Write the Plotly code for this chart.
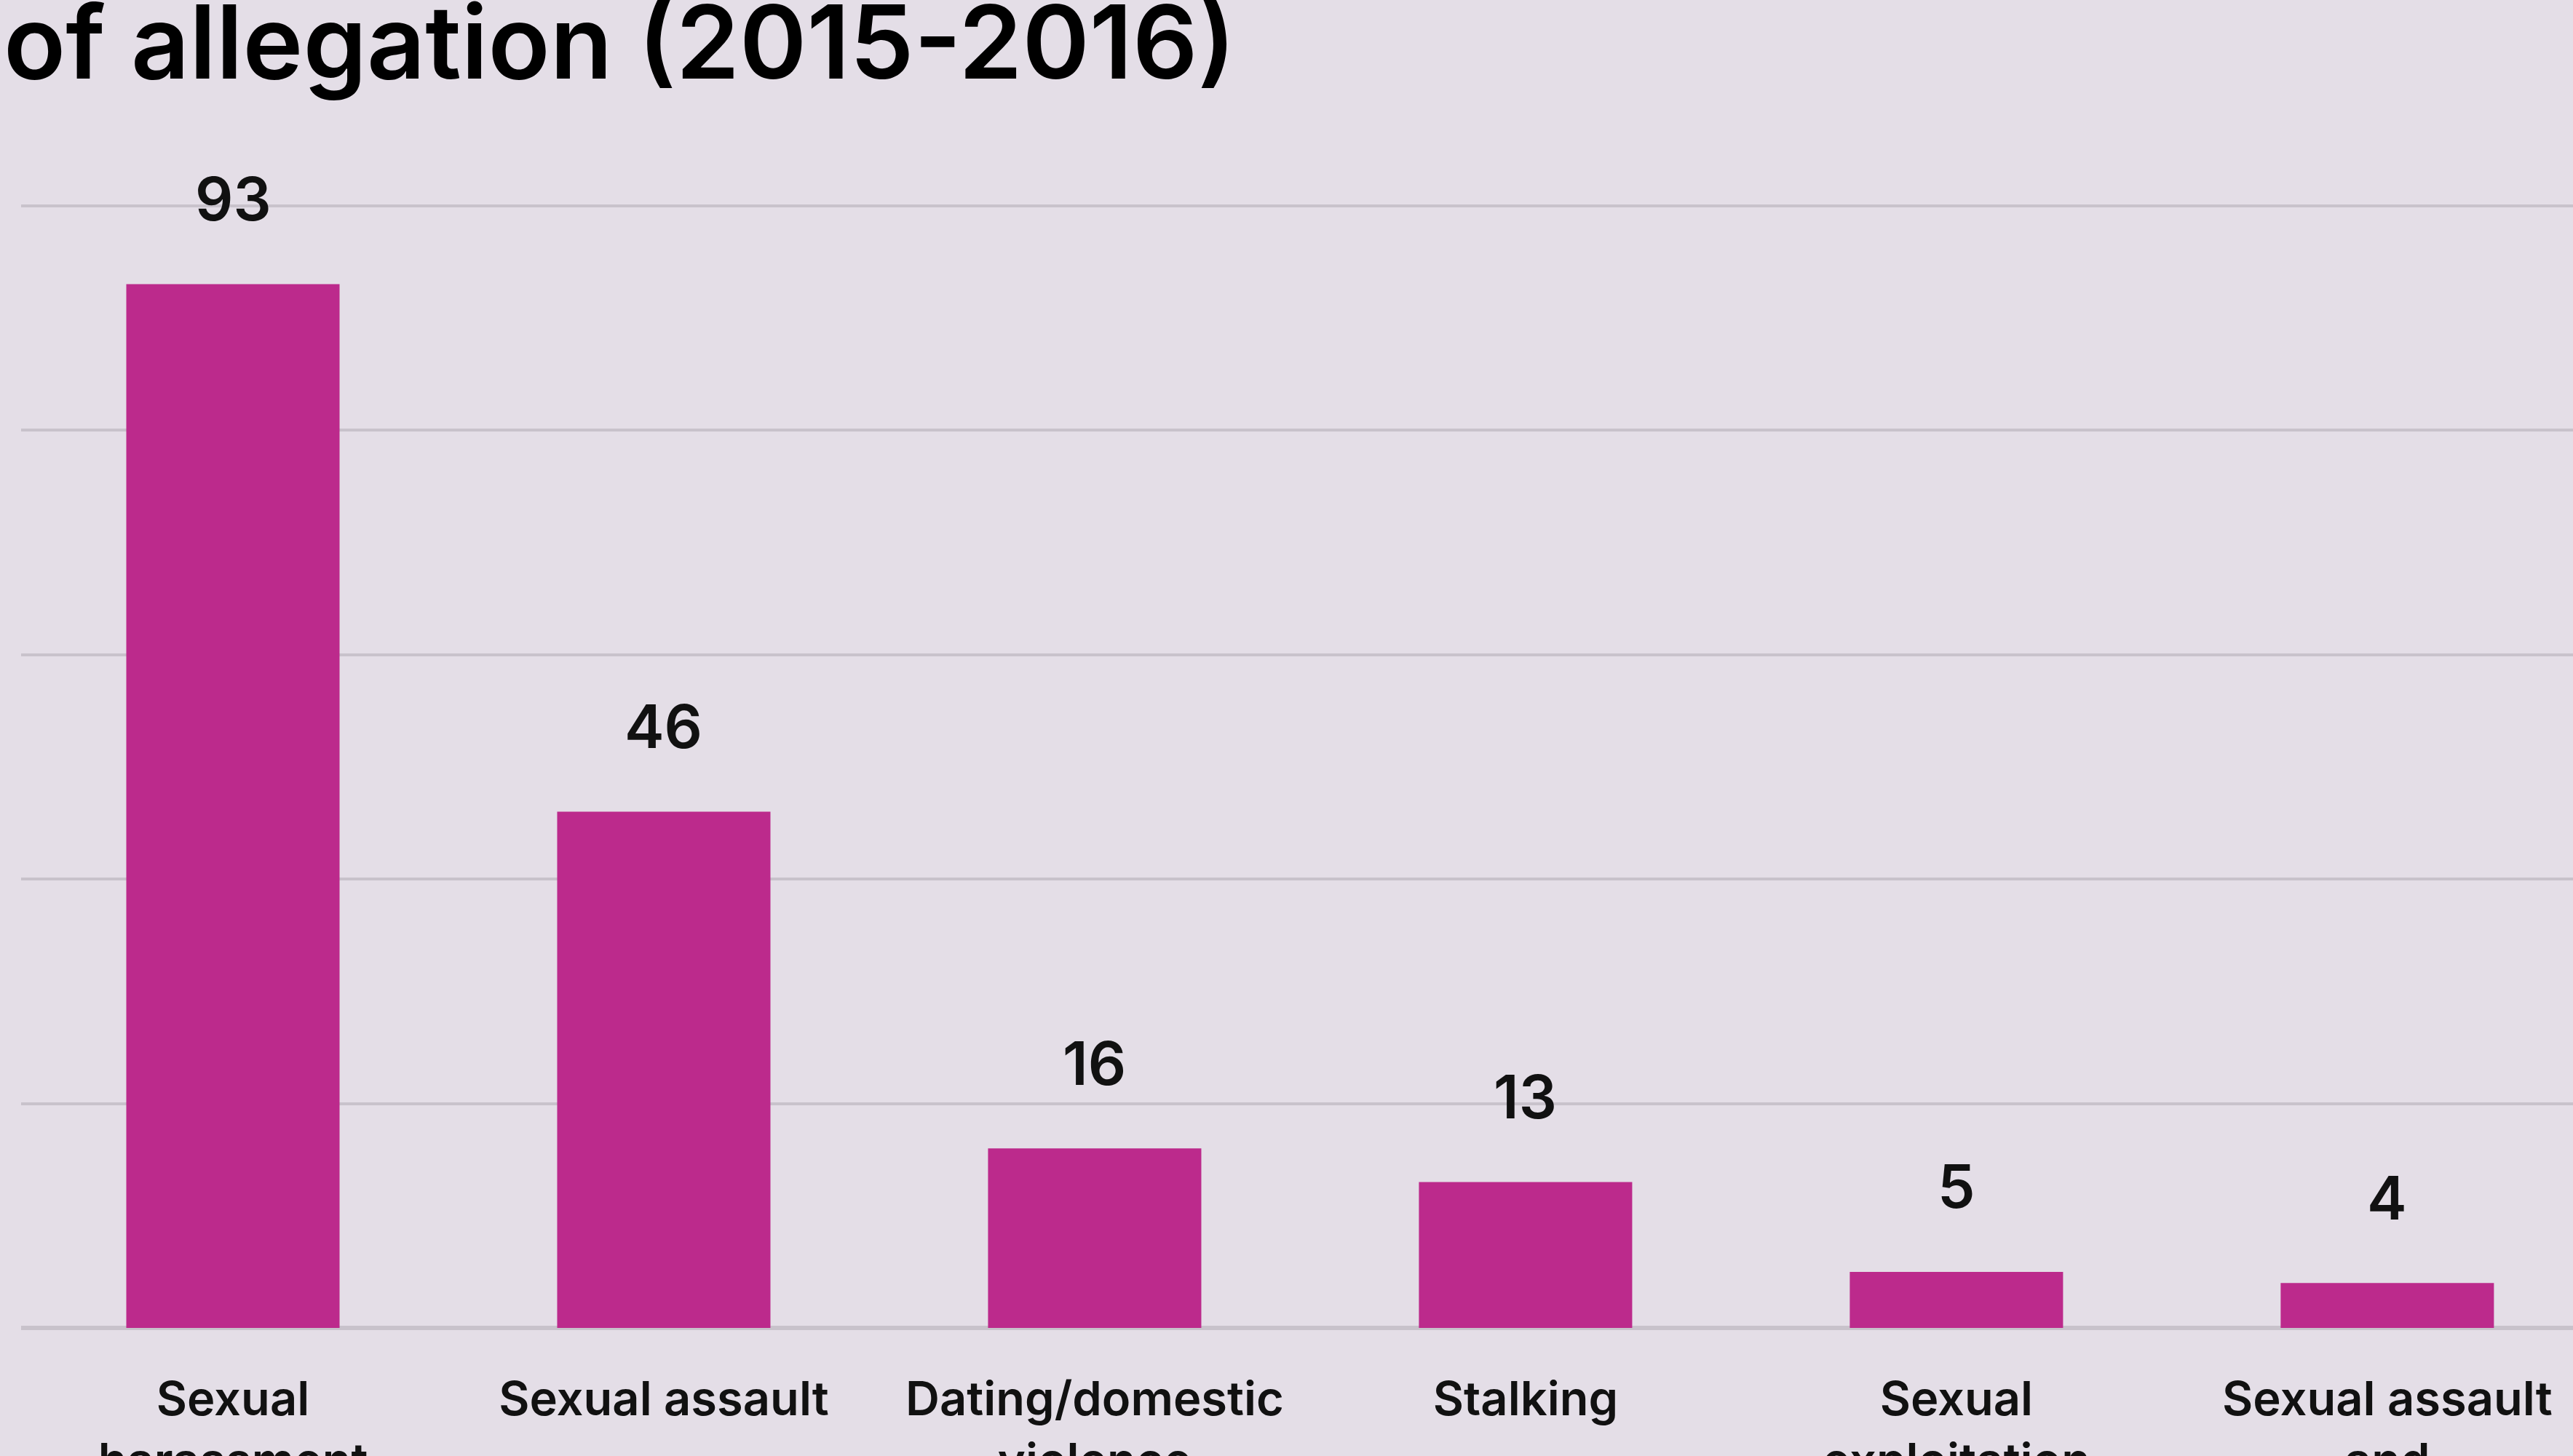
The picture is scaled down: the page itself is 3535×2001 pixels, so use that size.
import plotly.graph_objects as go

categories = ["Sexual<br>harassment", "Sexual assault", "Dating/domestic<br>violence",
              "Stalking", "Sexual<br>exploitation", "Sexual assault<br>and"]
values = [93, 46, 16, 13, 5, 4]
y_ticks = [0, 20, 40, 60, 80, 100]
title_text = "of allegation (2015-2016)"

BG = "#E4DEE7"
BAR = "#BC2A8C"
GRID = "#C8C2CB"
FONT = "Inter"

x_idx = list(range(len(categories)))

fig = go.Figure()
fig.add_trace(go.Bar(
    x=x_idx, y=values, width=0.495,
    marker=dict(color=BAR, line=dict(width=0)),
    hoverinfo="skip",
))

for i, v in zip(x_idx, values):
    fig.add_annotation(
        x=i, y=v, xref="x", yref="y", text=str(v), showarrow=False,
        yanchor="middle", yshift=117,
        font=dict(family=FONT, size=82, color="#111111", weight=600),
    )

fig.add_annotation(
    x=0, y=1, xref="paper", yref="paper", text=title_text, showarrow=False,
    xanchor="left", yanchor="bottom", xshift=-26, yshift=134,
    font=dict(family=FONT, size=140, color="#000000", weight=600),
)

fig.update_layout(
    width=3535, height=2001,
    paper_bgcolor=BG, plot_bgcolor=BG,
    margin=dict(l=29, r=0, t=278, b=176, pad=0, autoexpand=False),
    showlegend=False,
    bargap=0.5,
    xaxis=dict(
        range=[-0.4916, 5.431], automargin=False,
        tickmode="array", tickvals=x_idx, ticktext=categories,
        showgrid=False, zeroline=False, showline=False, ticks="",
        ticklabelstandoff=54,
        tickfont=dict(family=FONT, size=65, color="#111111", weight=600),
    ),
    yaxis=dict(
        range=[0, 100.3], tickvals=y_ticks, showticklabels=False, automargin=False,
        showgrid=True, gridcolor=GRID, gridwidth=4,
        zeroline=True, zerolinecolor=GRID, zerolinewidth=6,
        showline=False, ticks="",
    ),
)

fig.write_html(
    "out.html",
    config={"displayModeBar": False},
    post_script="document.body.style.margin='0';document.body.style.background='" + BG + "';",
)
